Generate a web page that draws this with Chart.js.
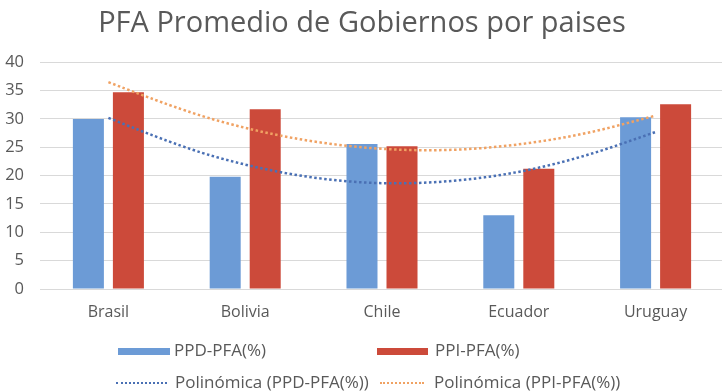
<!DOCTYPE html>
<html>
<head>
<meta charset="utf-8">
<script src="https://cdn.jsdelivr.net/npm/chart.js@4/dist/chart.umd.min.js"></script>
<style>
  html, body { margin: 0; padding: 0; background: #fff; overflow: hidden; }
  #wrap { position: relative; width: 722px; height: 391px; overflow: hidden; }
  #box { position: absolute; left: 0; top: 0; width: 726px; height: 391px; }
  .leg { position: absolute; font-family: "Open Sans", sans-serif; font-size: 17px; color: #595959; line-height: 20px; white-space: nowrap; }
  .sw { position: absolute; height: 7px; }
  .dots { position: absolute; height: 0; border-top: 2px dotted; }
</style>
</head>
<body>
<div id="wrap">
  <div id="box"><canvas id="grafico"></canvas></div>
  <div id="leyenda"></div>
</div>
<script>
// Datos por país
const paises = ["Brasil", "Bolivia", "Chile", "Ecuador", "Uruguay"];
const ppd = [30.0, 19.8, 25.6, 13.0, 30.3]; // PPD-PFA (%)
const ppi = [34.7, 31.7, 25.2, 21.2, 32.6]; // PPI-PFA (%)

// Líneas de tendencia polinómica, leídas cada media categoría (0 = Brasil ... 4 = Uruguay)
const tendPos = [0, 0.5, 1, 1.5, 2, 2.5, 3, 3.5, 4];
const tendPPD = [30.2, 25.3, 21.8, 19.5, 18.5, 18.9, 20.5, 23.5, 27.7];
const tendPPI = [36.5, 31.8, 28.3, 25.9, 24.6, 24.4, 25.4, 27.4, 30.6];

const yTicks = [0, 5, 10, 15, 20, 25, 30, 35, 40];

const azul = '#6c9bd6', rojo = '#cc4a3a';
const azulTend = '#4a70b4', naranjaTend = '#f0a263';
const gris = '#595959';

// Dibuja las tendencias punteadas sobre las barras usando las escalas del gráfico
const tendencias = {
  id: 'tendencias',
  afterDatasetsDraw(chart) {
    const { ctx, scales: { x, y } } = chart;
    [[tendPPD, azulTend], [tendPPI, naranjaTend]].forEach(([vals, color]) => {
      const pts = tendPos.map((p, i) => ({ x: x.getPixelForValue(p), y: y.getPixelForValue(vals[i]) }));
      ctx.save();
      ctx.strokeStyle = color;
      ctx.lineWidth = 2.5;
      ctx.setLineDash([2.5, 2.5]);
      ctx.beginPath();
      ctx.moveTo(pts[0].x, pts[0].y);
      for (let i = 1; i < pts.length - 1; i++) {
        const mx = (pts[i].x + pts[i + 1].x) / 2, my = (pts[i].y + pts[i + 1].y) / 2;
        ctx.quadraticCurveTo(pts[i].x, pts[i].y, mx, my);
      }
      const last = pts[pts.length - 1];
      ctx.lineTo(last.x, last.y);
      ctx.stroke();
      ctx.restore();
    });
  }
};

new Chart(document.getElementById('grafico').getContext('2d'), {
  type: 'bar',
  data: {
    labels: paises,
    datasets: [
      { label: 'PPD-PFA(%)', data: ppd, backgroundColor: azul,
        categoryPercentage: 0.585, barPercentage: 0.775 },
      { label: 'PPI-PFA(%)', data: ppi, backgroundColor: rojo,
        categoryPercentage: 0.585, barPercentage: 0.775 }
    ]
  },
  plugins: [tendencias],
  options: {
    responsive: true,
    maintainAspectRatio: false,
    animation: false,
    layout: { padding: { left: 0, right: 2, top: 0, bottom: 0 } },
    plugins: {
      legend: { display: false },
      tooltip: { enabled: false },
      title: {
        display: true,
        text: 'PFA Promedio de Gobiernos por paises',
        color: gris,
        font: { family: 'Open Sans', size: 29, weight: 'normal' },
        padding: { top: 6, bottom: 21.5 }
      }
    },
    scales: {
      x: {
        grid: { display: false, drawTicks: false },
        border: { display: false },
        ticks: { color: gris, font: { family: 'Open Sans', size: 16 }, padding: 14 },
        afterFit: s => { s.height = 102; }
      },
      y: {
        min: 0, max: 40,
        afterBuildTicks: s => { s.ticks = yTicks.map(v => ({ value: v })); },
        grid: { color: '#d9d9d9', lineWidth: 1, drawTicks: false },
        border: { display: false },
        ticks: { color: gris, font: { family: 'Open Sans', size: 16.5 }, padding: 16 },
        afterFit: s => { s.width = 40; }
      }
    }
  }
});

// Leyenda en dos columnas
const leyenda = [
  { texto: 'PPD-PFA(%)', tipo: 'sw', color: azul, x0: 118, x1: 170, tx: 174, y: 351 },
  { texto: 'PPI-PFA(%)', tipo: 'sw', color: rojo, x0: 377, x1: 428, tx: 435, y: 351 },
  { texto: 'Polinómica (PPD-PFA(%))', tipo: 'dots', color: azulTend, x0: 116, x1: 167, tx: 175, y: 383 },
  { texto: 'Polinómica (PPI-PFA(%))', tipo: 'dots', color: naranjaTend, x0: 380, x1: 424, tx: 434, y: 383 }
];
const cont = document.getElementById('leyenda');
leyenda.forEach(it => {
  const m = document.createElement('div');
  m.className = it.tipo;
  m.style.left = it.x0 + 'px';
  m.style.width = (it.x1 - it.x0) + 'px';
  if (it.tipo === 'sw') { m.style.top = (it.y - 3.5) + 'px'; m.style.background = it.color; }
  else { m.style.top = (it.y - 1) + 'px'; m.style.borderColor = it.color; }
  cont.appendChild(m);
  const t = document.createElement('div');
  t.className = 'leg';
  t.textContent = it.texto;
  t.style.left = it.tx + 'px';
  t.style.top = (it.y - 11) + 'px';
  cont.appendChild(t);
});
</script>
</body>
</html>
